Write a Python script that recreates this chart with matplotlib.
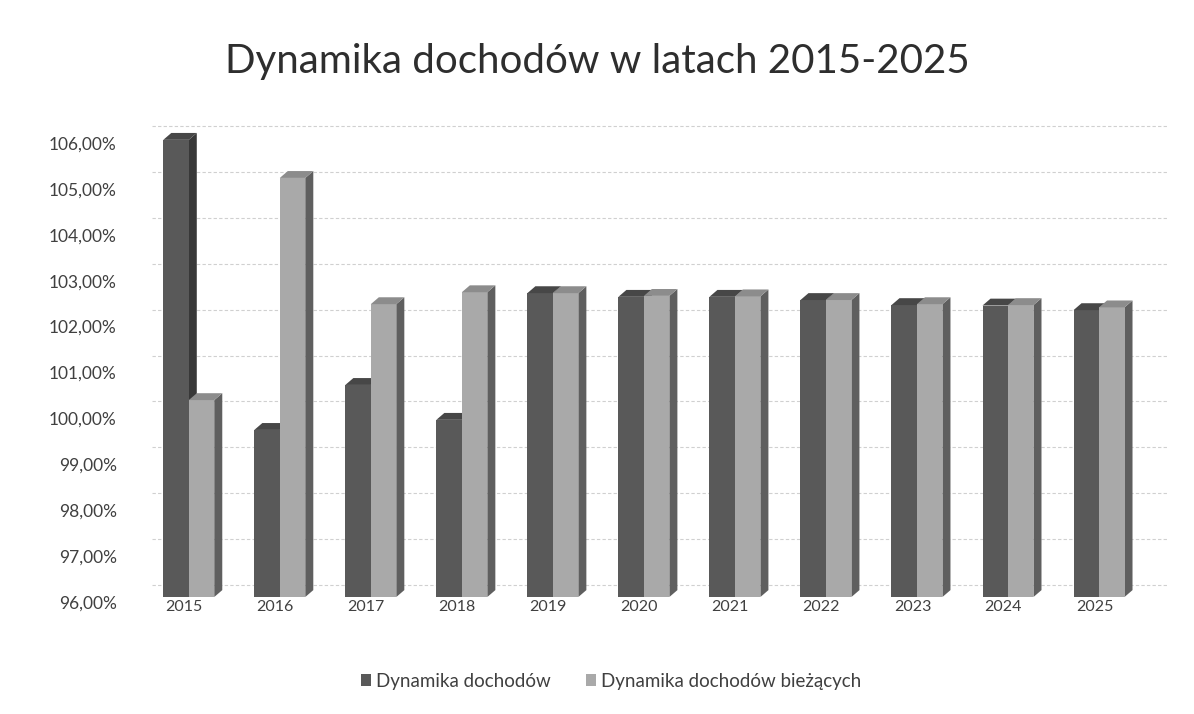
import numpy as np
import matplotlib
matplotlib.use("Agg")
import matplotlib.pyplot as plt
from matplotlib.patches import Polygon, Rectangle, Patch
from matplotlib.ticker import FuncFormatter
import matplotlib.transforms as mtransforms

plt.rcParams['font.family'] = ['Lato', 'DejaVu Sans']

years = ['2015', '2016', '2017', '2018', '2019', '2020', '2021', '2022', '2023', '2024', '2025']
dochody = [105.96, 99.64, 100.62, 99.86, 102.62, 102.54, 102.54, 102.47, 102.36, 102.35, 102.25]
dochody_biezace = [100.29, 105.13, 102.38, 102.64, 102.62, 102.56, 102.55, 102.47, 102.38, 102.36, 102.31]

series_names = ['Dynamika dochodów', 'Dynamika dochodów bieżących']
# front / side / top shades for each series
dark = ('#595959', '#383838', '#474747')
light = ('#a9a9a9', '#5f5f5f', '#8c8c8c')

BASE = 96.0
W = 0.28        # width of one column
DX = 0.088      # depth of the column, x direction
DY = 0.15       # depth of the column, y direction


def column(ax, x0, value, shades):
    front, side, top = shades
    ax.add_patch(Polygon([(x0 + W, BASE), (x0 + W + DX, BASE + DY),
                          (x0 + W + DX, value + DY), (x0 + W, value)],
                         closed=True, fc=side, ec='none', clip_on=False))
    ax.add_patch(Rectangle((x0, BASE), W, value - BASE, fc=front, ec='none', clip_on=False))
    ax.add_patch(Polygon([(x0, value), (x0 + W, value), (x0 + W + DX, value + DY),
                          (x0 + DX, value + DY)],
                         closed=True, fc=top, ec='none', clip_on=False))


fig = plt.figure(figsize=(11.94, 7.14), dpi=100)
ax = fig.add_axes([150 / 1194, 1 - 597 / 714, 1010 / 1194, 459 / 714])
ax.set_xlim(-0.286, 10.81)
ax.set_ylim(96, 106)

# back wall gridlines, shifted by the column depth
grid_shift = mtransforms.offset_copy(ax.transData, fig=fig, x=8, y=12, units='dots')
for v in np.arange(96, 107, 1):
    ax.plot([-0.35, 10.81], [v, v], color='#d0d0d0', lw=0.8, ls=(0, (3, 2)),
            transform=grid_shift, clip_on=False, zorder=0)

pos = np.arange(len(years))
for i in pos:
    column(ax, i - W / 2, dochody[i], dark)
    column(ax, i + W / 2, dochody_biezace[i], light)

for s in ax.spines.values():
    s.set_visible(False)

ax.set_yticks(np.arange(96, 107, 1))
ax.yaxis.set_major_formatter(FuncFormatter(lambda v, p: f'{v:.2f}%'.replace('.', ',')))
ax.tick_params(axis='y', length=0, pad=24, labelsize=12.5, labelcolor='#404040')
for lab in ax.get_yticklabels():
    lab.set_transform(lab.get_transform() + mtransforms.ScaledTranslation(0, -5 / 100, fig.dpi_scale_trans))

ax.set_xticks(pos + 0.09)
ax.set_xticklabels(years)
ax.tick_params(axis='x', length=0, pad=2, labelsize=11.5, labelcolor='#404040')

fig.text(0.5, 1 - 62 / 714, 'Dynamika dochodów w latach 2015-2025', ha='center', va='center',
         fontsize=29, color='#2e2e2e')

handles = [Patch(fc=dark[0], ec='none'), Patch(fc=light[0], ec='none')]
fig.legend(handles, series_names, loc='center', bbox_to_anchor=(611 / 1194, 1 - 681 / 714),
           ncol=2, frameon=False, fontsize=13.5, handlelength=0.55, handleheight=0.55,
           handletextpad=0.25, columnspacing=1.9, labelcolor='#404040')

fig.savefig('out.png', dpi=100, facecolor='white')
